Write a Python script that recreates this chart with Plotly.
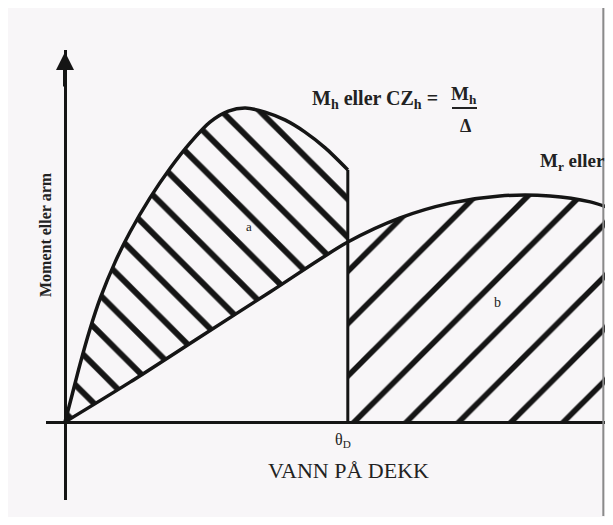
import plotly.graph_objects as go

# krengende arm (vann på dekk) - stiger til topp, faller ved theta_D
heel_angle = [0, 1, 2.1, 3.5, 5, 7.1, 9.2, 12, 14.9, 17.7, 20.5, 23.1, 25.5,
              28.3, 31.1, 33.9, 36.8, 40]
heel_arm = [0, 8.6, 18.2, 29.3, 39.5, 51, 60.5, 71.3, 80.9, 88.9, 95.5, 99, 100,
            98.7, 96.2, 92.4, 87.3, 80.3]

# rettende arm
right_angle = [0, 9.2, 19.1, 29, 40, 47.4, 54.5, 61.5, 68.6, 74.3, 77.8]
right_arm = [0, 12.7, 27.1, 41.4, 57.3, 65, 69.7, 72, 72, 70.1, 67.5]

THETA_D = 40

INK = "#151515"
BG = "#f8f6f8"
SERIF = "Liberation Serif, DejaVu Serif, serif"

# siden har 8 px marg i body; plottområdet ligger 46..605 x 50..500 i vinduet
OFF = 8
W, H = 613 - 2 * OFF, 525 - 2 * OFF
LEFT, RIGHT, TOP, BOTTOM = 46, 605, 50, 500


def px(x):
    return (x - 65) / 7.07


def py(y):
    return (422 - y) / 3.14


fig = go.Figure()

# område a: mellom kurvene fram til theta_D
a_x = [a for a in heel_angle if a <= THETA_D]
a_y = [heel_arm[i] for i, a in enumerate(heel_angle) if a <= THETA_D]
low_x = [a for a in right_angle if a <= THETA_D]
low_y = [right_arm[i] for i, a in enumerate(right_angle) if a <= THETA_D]
fig.add_trace(go.Scatter(
    x=a_x + low_x[::-1], y=a_y + low_y[::-1],
    mode="none", fill="toself", fillcolor="rgba(0,0,0,0)",
    fillpattern=dict(shape="\\", size=27, solidity=0.22, fgcolor=INK,
                     fgopacity=1, bgcolor="rgba(0,0,0,0)"),
    hoverinfo="skip", showlegend=False))

# område b: under rettende kurve etter theta_D
b_x = [a for a in right_angle if a >= THETA_D]
b_y = [right_arm[i] for i, a in enumerate(right_angle) if a >= THETA_D]
fig.add_trace(go.Scatter(
    x=b_x, y=b_y, mode="none", fill="tozeroy", fillcolor="rgba(0,0,0,0)",
    fillpattern=dict(shape="/", size=37, solidity=0.15, fgcolor=INK,
                     fgopacity=1, bgcolor="rgba(0,0,0,0)"),
    hoverinfo="skip", showlegend=False))

# kurvene
for xs, ys in [(heel_angle, heel_arm), (right_angle, right_arm)]:
    fig.add_trace(go.Scatter(x=xs, y=ys, mode="lines",
                             line=dict(color=INK, width=3.5, shape="spline", smoothing=0.8),
                             hoverinfo="skip", showlegend=False))
fig.add_trace(go.Scatter(x=[THETA_D, THETA_D], y=[0, heel_arm[-1]], mode="lines",
                         line=dict(color=INK, width=3),
                         hoverinfo="skip", showlegend=False))

ann = [
    dict(x=px(375), y=py(99), text="<b>M<sub>h</sub> eller CZ<sub>h</sub> =</b>", size=20),
    dict(x=px(464), y=py(95), text="<b>M<sub>h</sub></b>", size=19),
    dict(x=px(465), y=py(126), text="<b>Δ</b>", size=18),
    dict(x=px(572), y=py(162), text="<b>M<sub>r</sub> eller</b>", size=19),
    dict(x=px(249), y=py(226), text="a", size=13),
    dict(x=px(497), y=py(302), text="b", size=14),
    dict(x=px(343), y=py(440), text="θ<sub>D</sub>", size=16),
    dict(x=px(348), y=py(470), text="VANN PÅ DEKK", size=22),
]
for a in ann:
    fig.add_annotation(x=a["x"], y=a["y"], text=a["text"], showarrow=False,
                       font=dict(family=SERIF, size=a["size"], color="#222"))

fig.add_annotation(xref="paper", yref="paper", x=(45 - LEFT) / (RIGHT - LEFT),
                   y=(BOTTOM - 235) / (BOTTOM - TOP), xanchor="center", yanchor="middle",
                   text="<b>Moment eller arm</b>", textangle=-90,
                   showarrow=False, font=dict(family=SERIF, size=16, color="#222"))

# pil på y-aksen
fig.add_annotation(x=0, y=py(52), ax=0, ay=36, showarrow=True, text="",
                   arrowhead=2, arrowsize=0.9, arrowwidth=4, arrowcolor=INK)

# brøkstrek
fig.add_shape(type="line", x0=px(452), x1=px(477), y0=py(108), y1=py(108),
              line=dict(color="#222", width=2))

# kant fra skannet
fig.add_shape(type="line", xref="paper", yref="paper", x0=0.997, x1=0.997,
              y0=(BOTTOM - 516) / (BOTTOM - TOP), y1=(BOTTOM - 8) / (BOTTOM - TOP),
              line=dict(color="#8a8a8a", width=2))

fig.update_xaxes(range=[px(LEFT), px(RIGHT)], showgrid=False, showticklabels=False,
                 ticks="", zeroline=True, zerolinecolor=INK, zerolinewidth=3)
fig.update_yaxes(range=[py(BOTTOM), py(TOP)], showgrid=False, showticklabels=False,
                 ticks="", zeroline=True, zerolinecolor=INK, zerolinewidth=3)

fig.update_layout(
    width=W, height=H,
    margin=dict(l=LEFT - OFF, r=W - (RIGHT - OFF), t=TOP - OFF, b=H - (BOTTOM - OFF)),
    paper_bgcolor=BG, plot_bgcolor=BG,
    showlegend=False,
)

fig.write_html("out.html")
